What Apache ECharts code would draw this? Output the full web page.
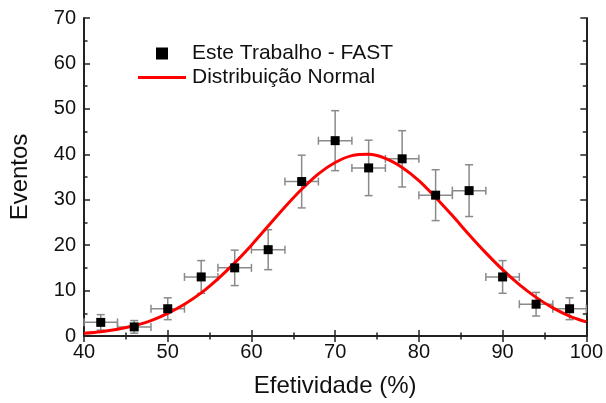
<!DOCTYPE html>
<html>
<head>
<meta charset="utf-8">
<script src="https://cdn.jsdelivr.net/npm/echarts@6/dist/echarts.min.js"></script>
<style>
html,body{margin:0;padding:0;background:#fff;}
#c{width:606px;height:403px;}
</style>
</head>
<body>
<div id="c"></div>
<script>
// Data
var xValues = [42, 46, 50, 54, 58, 62, 66, 70, 74, 78, 82, 86, 90, 94, 98];
var yValues = [3, 2, 6, 13, 15, 19, 34, 43, 37, 39, 31, 32, 13, 7, 6];
var yErrors = [1.7, 1.4, 2.4, 3.6, 3.9, 4.4, 5.8, 6.6, 6.1, 6.2, 5.6, 5.7, 3.6, 2.6, 2.4];
var xErrors = [2, 2, 2, 2, 2, 2, 2, 2, 2, 2, 2, 2, 2, 2, 2];
var curveX = [40, 42, 44, 46, 48, 50, 52, 54, 56, 58, 60, 62, 64, 66, 68, 70, 72, 74, 76, 78, 80, 82, 84, 86, 88, 90, 92, 94, 96, 98, 100];
var curveY = [0.6, 0.95, 1.5, 2.3, 3.4, 5.0, 7.0, 9.5, 12.6, 16.1, 20.0, 24.2, 28.4, 32.3, 35.7, 38.2, 39.7, 40.0, 39.1, 37.1, 34.2, 30.5, 26.5, 22.3, 18.3, 14.6, 11.3, 8.5, 6.2, 4.4, 3.1];
var xTicks = [40, 50, 60, 70, 80, 90, 100];
var yTicks = [0, 10, 20, 30, 40, 50, 60, 70];
var seriesNames = ['Este Trabalho - FAST', 'Distribuição Normal'];
var xTitle = 'Efetividade (%)';
var yTitle = 'Eventos';

var pts = xValues.map(function (x, i) { return [x, yValues[i]]; });
var errData = xValues.map(function (x, i) { return [x, yValues[i], xErrors[i], yErrors[i]]; });
var curve = curveX.map(function (x, i) { return [x, curveY[i]]; });

var chart = echarts.init(document.getElementById('c'), null, {renderer: 'canvas'});
var FONT = 'Liberation Sans, Arial, sans-serif';
var axisCol = '#222';

function errRender(params, api) {
  var x = api.value(0), y = api.value(1), ex = api.value(2), ey = api.value(3);
  var top = api.coord([x, y + ey]);
  var bot = api.coord([x, y - ey]);
  var lft = api.coord([x - ex, y]);
  var rgt = api.coord([x + ex, y]);
  var cap = 4;
  var st = {stroke: '#8a8a8a', lineWidth: 1.5, fill: null};
  return {
    type: 'group',
    children: [
      {type: 'line', shape: {x1: top[0], y1: top[1], x2: bot[0], y2: bot[1]}, style: st},
      {type: 'line', shape: {x1: top[0] - cap, y1: top[1], x2: top[0] + cap, y2: top[1]}, style: st},
      {type: 'line', shape: {x1: bot[0] - cap, y1: bot[1], x2: bot[0] + cap, y2: bot[1]}, style: st},
      {type: 'line', shape: {x1: lft[0], y1: lft[1], x2: rgt[0], y2: rgt[1]}, style: st},
      {type: 'line', shape: {x1: lft[0], y1: lft[1] - cap, x2: lft[0], y2: lft[1] + cap}, style: st},
      {type: 'line', shape: {x1: rgt[0], y1: rgt[1] - cap, x2: rgt[0], y2: rgt[1] + cap}, style: st}
    ]
  };
}

var tickCommon = {inside: true, length: 6, lineStyle: {color: axisCol, width: 1.5}};
var minorCommon = {show: true, splitNumber: 2, length: 3.5, lineStyle: {color: axisCol, width: 1.5}};

chart.setOption({
  animation: false,
  backgroundColor: '#fff',
  grid: {left: 81, right: 18, top: 18, bottom: 65, containLabel: false},
  legend: {
    orient: 'vertical',
    left: 138,
    top: 43,
    padding: 0,
    itemWidth: 48,
    itemHeight: 12,
    itemGap: 3,
    symbolKeepAspect: true,
    textStyle: {fontFamily: FONT, fontSize: 21, color: '#111', padding: [0, 0, 0, 1]},
    data: [
      {name: seriesNames[0], icon: 'path://M0,0h10v10h-10z', itemStyle: {color: '#000'}},
      {name: seriesNames[1], icon: 'path://M0,0h48v3h-48z', itemStyle: {color: '#ff0000'}}
    ]
  },
  xAxis: [{
    type: 'value', min: 40, max: 100, interval: 10, position: 'bottom',
    name: xTitle, nameLocation: 'middle', nameGap: 38,
    nameTextStyle: {fontFamily: FONT, fontSize: 24, color: '#111'},
    axisLine: {show: true, lineStyle: {color: axisCol, width: 2}},
    axisTick: tickCommon, minorTick: minorCommon,
    axisLabel: {fontFamily: FONT, fontSize: 20, color: '#111', margin: 6,
      formatter: function (v) { return xTicks.indexOf(v) >= 0 ? String(v) : ''; }},
    splitLine: {show: false}
  }, {
    type: 'value', min: 40, max: 100, interval: 10, position: 'top',
    axisLine: {show: true, lineStyle: {color: axisCol, width: 2}},
    axisTick: tickCommon, minorTick: minorCommon,
    axisLabel: {show: false}, splitLine: {show: false}
  }],
  yAxis: [{
    type: 'value', min: 0, max: 70, interval: 10, position: 'left',
    name: yTitle, nameLocation: 'middle', nameGap: 52, nameRotate: 90,
    nameTextStyle: {fontFamily: FONT, fontSize: 24, color: '#111'},
    axisLine: {show: true, lineStyle: {color: axisCol, width: 2}},
    axisTick: tickCommon, minorTick: minorCommon,
    axisLabel: {fontFamily: FONT, fontSize: 20, color: '#111', margin: 8,
      formatter: function (v) { return yTicks.indexOf(v) >= 0 ? String(v) : ''; }},
    splitLine: {show: false}
  }, {
    type: 'value', min: 0, max: 70, interval: 10, position: 'right',
    axisLine: {show: true, lineStyle: {color: axisCol, width: 2}},
    axisTick: tickCommon, minorTick: minorCommon,
    axisLabel: {show: false}, splitLine: {show: false}
  }],
  series: [
    {
      type: 'custom', name: 'err', xAxisIndex: 0, yAxisIndex: 0,
      renderItem: errRender, data: errData, z: 1, silent: true,
      encode: {x: 0, y: 1}
    },
    {
      type: 'line', name: seriesNames[1], xAxisIndex: 0, yAxisIndex: 0,
      data: curve, smooth: 0.3, showSymbol: false, symbol: 'none',
      lineStyle: {color: '#ff0000', width: 3}, itemStyle: {color: '#ff0000'}, z: 3
    },
    {
      type: 'scatter', name: seriesNames[0], xAxisIndex: 0, yAxisIndex: 0,
      data: pts, symbol: 'rect', symbolSize: 9, itemStyle: {color: '#000', opacity: 1}, z: 4
    }
  ]
});
</script>
</body>
</html>
